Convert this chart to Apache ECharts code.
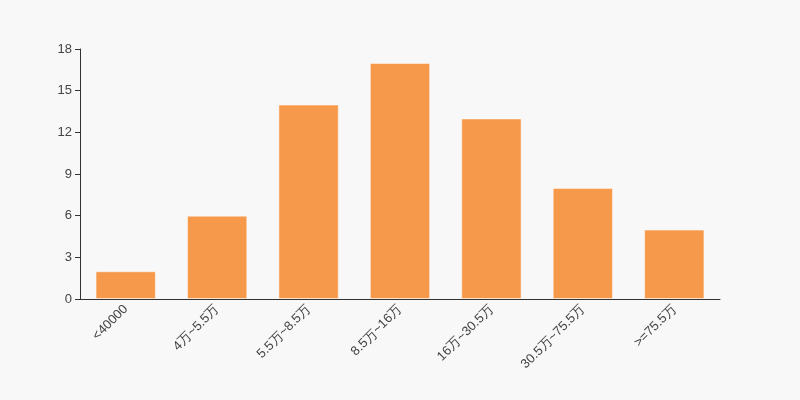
<!DOCTYPE html>
<html><head><meta charset="utf-8">
<script src="https://cdn.jsdelivr.net/npm/echarts@6/dist/echarts.min.js"></script>
<style>html,body{margin:0;padding:0;background:#f8f8f8}#c{width:800px;height:400px}</style>
</head><body><div id="c"></div>
<script>
const categories = ['<40000','4万~5.5万','5.5万~8.5万','8.5万~16万','16万~30.5万','30.5万~75.5万','>=75.5万'];
const values = [2, 6, 14, 17, 13, 8, 5];
const yTicks = {min: 0, max: 18, interval: 3};

const chart = echarts.init(document.getElementById('c'));
chart.setOption({
  backgroundColor: '#f8f8f8',
  animation: false,
  grid: {left: 80, right: 80, top: 49, bottom: 101},
  xAxis: {
    type: 'category', data: categories,
    axisLine: {lineStyle: {color: '#333'}},
    axisTick: {lineStyle: {color: '#333'}},
    axisLabel: {rotate: 45, color: '#444', fontSize: 13, interval: 0, fontFamily: 'sans-serif'}
  },
  yAxis: {
    type: 'value', min: yTicks.min, max: yTicks.max, interval: yTicks.interval,
    axisLine: {show: true, lineStyle: {color: '#333'}},
    axisTick: {show: true, lineStyle: {color: '#333'}},
    splitLine: {show: false},
    axisLabel: {color: '#444', fontSize: 13, fontFamily: 'sans-serif'}
  },
  series: [{
    type: 'bar', data: values, barCategoryGap: '34%',
    itemStyle: {color: '#f7994a', borderColor: 'rgba(255,255,255,0.5)', borderWidth: 1}
  }]
});
</script></body></html>
